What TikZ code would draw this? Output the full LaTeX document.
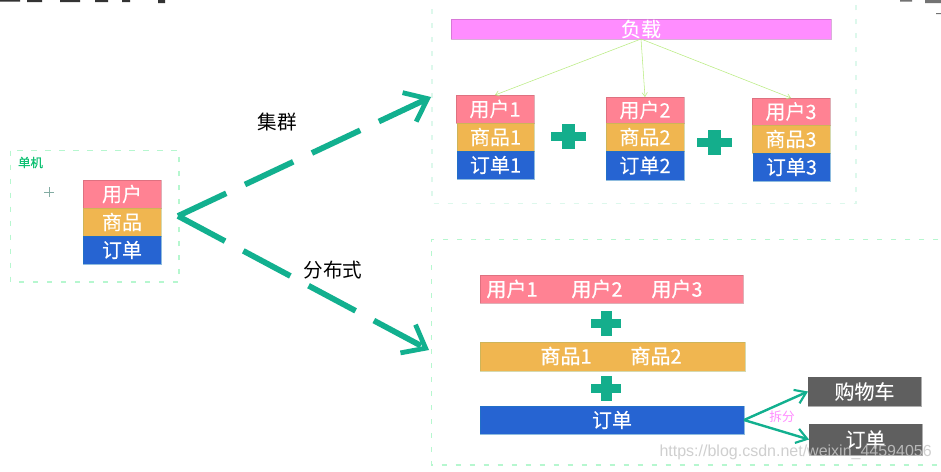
\documentclass[tikz,border=0pt]{standalone}
\usepackage{fontspec}
\setmainfont{Noto Sans CJK SC}
\newfontfamily\boldish[RawFeature={embolden=0.7}]{Noto Sans CJK SC}
\newfontfamily\latinfont{Liberation Sans}
\usetikzlibrary{arrows.meta}
\definecolor{teal1}{HTML}{12B08F}
\definecolor{tealplus}{HTML}{14AE8C}
\definecolor{pinkc}{HTML}{FF8293}
\definecolor{orangec}{HTML}{F0B650}
\definecolor{bluec}{HTML}{2664D2}
\definecolor{magc}{HTML}{FF8DFF}
\definecolor{grayc}{HTML}{5F5F5F}
\definecolor{dashA}{HTML}{B6F7CF}
\definecolor{dashB}{HTML}{DDF8EC}
\definecolor{lbline}{HTML}{B9EC80}
\tikzset{
  x=0.75pt,y=-0.75pt,
  barbox/.style={inner sep=0pt,outer sep=0pt,text=white,font=\boldish\fontsize{15}{15}\selectfont,draw opacity=0.5},
  userbox/.style={barbox,fill=pinkc,draw=pinkc!75!black},
  goodsbox/.style={barbox,fill=orangec,draw=orangec!70!teal1},
  orderbox/.style={barbox,fill=bluec,draw=bluec!70!teal1},
  lbbox/.style={barbox,fill=magc,draw=magc!70!black},
  darkbox/.style={barbox,fill=grayc,draw=grayc},
  inlabel/.style={inner sep=0pt,text=white,font=\boldish\fontsize{15}{15}\selectfont},
  biglabel/.style={inner sep=0pt,text=black,font=\fontsize{14.7}{15}\selectfont},
  group/.style={dash pattern=on 4pt off 6.5pt,line width=0.8pt},
  bigarrow/.style={draw=teal1,line width=4.3pt,dash pattern=on 40pt off 15.5pt,
    -{Straight Barb[length=15pt,width=24pt,line width=3.6pt]}},
  smallarrow/.style={draw=teal1,line width=1.8pt,-{Straight Barb[length=8pt,width=11pt,line width=1.6pt]}},
  lbarrow/.style={draw=lbline,line width=0.4pt,-{Straight Barb[length=3pt,width=4pt]}},
}
% name, x0, y0, x1, y1, style, text
\newcommand\pxbox[7]{%
  \pgfmathsetmacro\bw{(#4-#2)*0.75}\pgfmathsetmacro\bh{(#5-#3)*0.75}%
  \node[#6,minimum width=\bw pt,minimum height=\bh pt] (#1) at ({(#2+#4)/2},{(#3+#5)/2}) {#7};%
}
\newcommand\plusat[2]{%
  \fill[tealplus] (#1-17.5,#2-4.5) rectangle (#1+17.5,#2+4.5);
  \fill[tealplus] (#1-6.5,#2-12.5) rectangle (#1+6.5,#2+12.5);
}
\newcommand\plusatb[2]{%
  \fill[tealplus] (#1-15,#2-4.5) rectangle (#1+15,#2+4.5);
  \fill[tealplus] (#1-5.5,#2-12.5) rectangle (#1+5.5,#2+12.5);
}
\begin{document}
\begin{tikzpicture}
\useasboundingbox (0,0) rectangle (941,471);
\clip (0,0) rectangle (941,471);
\fill[white] (0,0) rectangle (941,471);

% fragments of the cut-off top edge
\fill[black!80] (0,0) rectangle (20,1.5) (27,0) rectangle (42,2) (60,0) rectangle (80,2)
  (95,0) rectangle (108,2) (122,0) rectangle (130,2) (158,0) rectangle (165,3);
\fill[black!55] (900,0) rectangle (912,1.5) (925,0) rectangle (941,3) (936,13) rectangle (941,14);

% dashed groups
\draw[group,dashA] (10.5,150.5) rectangle (179,282);
\node[inner sep=0pt,text=teal1!80!green,font=\boldish\fontsize{9.3}{9}\selectfont] (single) at (30.5,162.5) {单机};
\draw[group,dashB] (432,-5) rectangle (856,203.5);
\draw[group,dashA] (938,239.5) -- (431.5,239.5) -- (431.5,465) -- (938,465);

% crosshair
\draw[teal1!35!gray!75!white,line width=0.7pt] (44,192) -- (54,192) (49,187) -- (49,197);

% single machine stack
\pxbox{u0}{83}{180}{161}{208}{userbox}{用户}
\pxbox{g0}{83}{208}{161}{236}{goodsbox}{商品}
\pxbox{o0}{83}{236}{161}{264}{orderbox}{订单}

% load balancer
\pxbox{lb}{451}{19}{831}{39}{lbbox}{\raisebox{1pt}{负载}}

% cluster stacks
\pxbox{u1}{456}{95}{534}{123}{userbox}{用户1}
\pxbox{g1}{457}{123}{534}{151}{goodsbox}{商品1}
\pxbox{o1}{457}{151}{534}{179}{orderbox}{订单1}
\pxbox{u2}{606}{97}{684}{123}{userbox}{用户2}
\pxbox{g2}{606}{123}{684}{151}{goodsbox}{商品2}
\pxbox{o2}{606}{151}{684}{180}{orderbox}{订单2}
\pxbox{u3}{752}{98}{830}{125}{userbox}{用户3}
\pxbox{g3}{752}{125}{830}{153}{goodsbox}{商品3}
\pxbox{o3}{753}{153}{830}{181}{orderbox}{订单3}
\plusat{568.5}{136}
\plusat{714}{142}

\draw[lbarrow] (lb.south) -- (u1.north);
\draw[lbarrow] (lb.south) -- (u2.north);
\draw[lbarrow] (lb.south) -- (u3.north);

% main dashed arrows
\coordinate (split) at (178,216);
\coordinate (clusterend) at (431,97);
\coordinate (distend) at (429,350);
\draw[bigarrow] (split) -- (clusterend);
\draw[bigarrow] (split) -- (distend);
\node[biglabel] (lcluster) at (277,122) {集群};
\node[biglabel] (ldist) at (333,270) {分布式};

% distributed bars
\pxbox{ub}{480}{275}{743}{303}{userbox}{}
\node[inlabel] (ub1) at (512,289) {用户1};
\node[inlabel] (ub2) at (597,289) {用户2};
\node[inlabel] (ub3) at (677,289) {用户3};
\pxbox{gb}{480}{342}{745}{371}{goodsbox}{}
\node[inlabel] (gb1) at (566,356) {商品1};
\node[inlabel] (gb2) at (656,356) {商品2};
\pxbox{ob}{480}{406}{744}{434}{orderbox}{订单}
\plusatb{606}{323}
\plusatb{606}{388}

% split
\pxbox{cart}{808}{377}{921}{406}{darkbox}{购物车}
\pxbox{ord}{809}{424}{922}{455}{darkbox}{订单}
\draw[smallarrow] (ob.east) -- (cart.west);
\draw[smallarrow] (ob.east) -- (ord.west);
\node[inner sep=0pt,text=magc,font=\fontsize{9.5}{10}\selectfont] (lsplit) at (782,417) {拆分};

% watermark
\node[anchor=east,inner sep=0pt,text=black!22,opacity=0.85,font=\latinfont\fontsize{12}{12}\selectfont] (mark) at (932,452) {https://blog.csdn.net/weixin\_44594056};
\end{tikzpicture}
\end{document}
